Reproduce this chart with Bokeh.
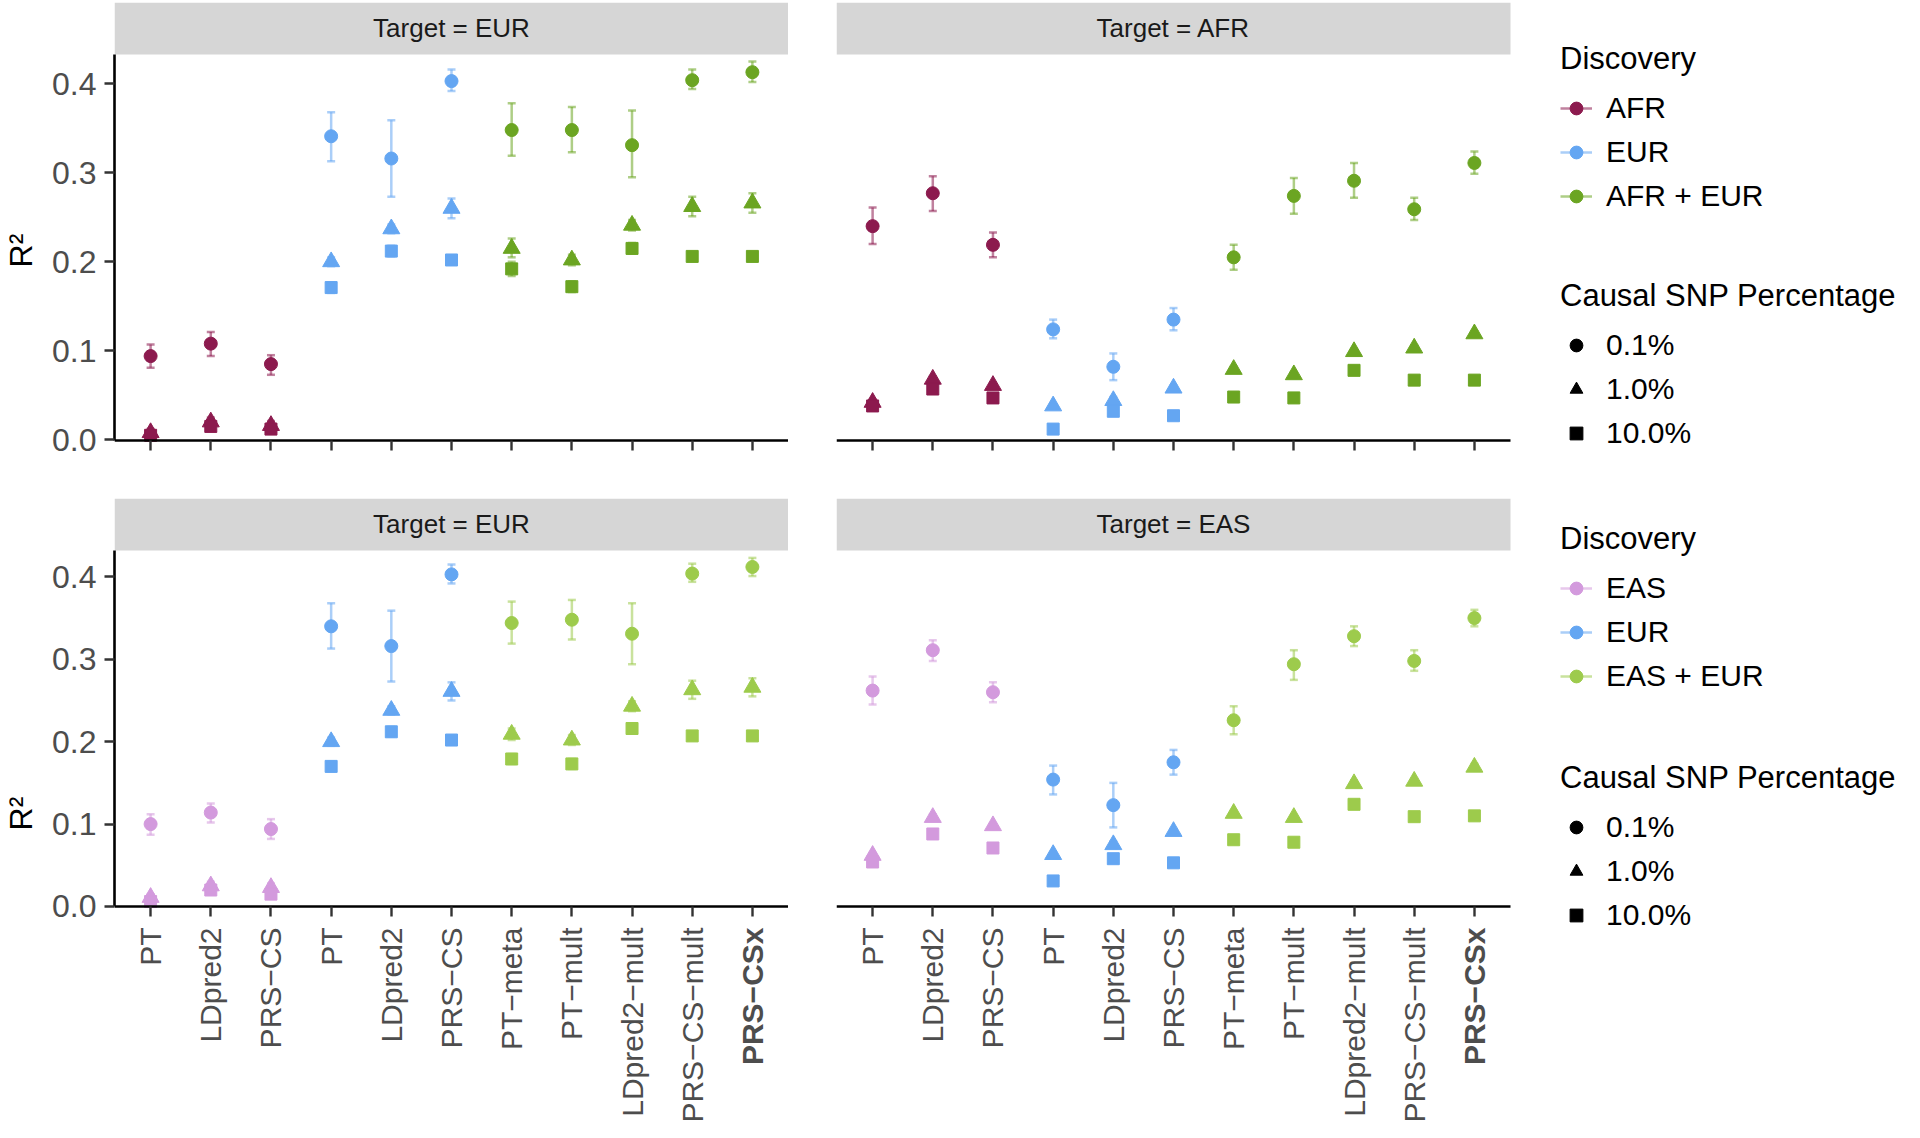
from math import pi
from bokeh.plotting import figure
from bokeh.models import (ColumnDataSource, FixedTicker, NumeralTickFormatter, LinearAxis,
                          BoxAnnotation, Label, Legend, LegendItem, Range1d)
from bokeh.layouts import column, row
from bokeh.embed import file_html
from bokeh.resources import INLINE

# ---------------- data ----------------
methods = ["PT", "LDpred2", "PRS\u2212CS", "PT", "LDpred2", "PRS\u2212CS",
           "PT\u2212meta", "PT\u2212mult", "LDpred2\u2212mult", "PRS\u2212CS\u2212mult", "PRS\u2212CSx"]
method_group = ["pop", "pop", "pop", "EUR", "EUR", "EUR", "multi", "multi", "multi", "multi", "multi"]
pct_labels = ["0.1%", "1.0%", "10.0%"]

# Panel A: Target = EUR, discovery AFR / EUR / AFR + EUR
a_c = [0.094, 0.108, 0.085, 0.341, 0.316, 0.403, 0.348, 0.348, 0.331, 0.404, 0.413]
a_c_lo = [0.081, 0.094, 0.073, 0.313, 0.273, 0.392, 0.319, 0.323, 0.295, 0.394, 0.402]
a_c_hi = [0.107, 0.121, 0.095, 0.368, 0.359, 0.416, 0.378, 0.374, 0.370, 0.416, 0.425]
a_t = [0.008, 0.020, 0.016, 0.200, 0.237, 0.260, 0.215, 0.202, 0.241, 0.262, 0.266]
a_t_lo = [0.004, 0.015, 0.011, 0.195, 0.232, 0.249, 0.205, 0.196, 0.235, 0.251, 0.255]
a_t_hi = [0.012, 0.025, 0.021, 0.205, 0.242, 0.271, 0.226, 0.208, 0.247, 0.273, 0.277]
a_s = [0.005, 0.015, 0.012, 0.171, 0.212, 0.202, 0.192, 0.172, 0.215, 0.206, 0.206]
a_s_lo = [0.002, 0.012, 0.009, 0.165, 0.206, 0.197, 0.184, 0.166, 0.209, 0.201, 0.201]
a_s_hi = [0.008, 0.018, 0.015, 0.177, 0.218, 0.207, 0.200, 0.178, 0.221, 0.211, 0.211]

# Panel B: Target = AFR
b_c = [0.240, 0.277, 0.219, 0.124, 0.082, 0.135, 0.205, 0.274, 0.291, 0.259, 0.311]
b_c_lo = [0.220, 0.257, 0.205, 0.114, 0.067, 0.123, 0.191, 0.254, 0.272, 0.247, 0.299]
b_c_hi = [0.261, 0.296, 0.233, 0.135, 0.097, 0.148, 0.219, 0.294, 0.311, 0.272, 0.324]
b_t = [0.042, 0.068, 0.061, 0.038, 0.044, 0.058, 0.079, 0.073, 0.099, 0.103, 0.119]
b_t_lo = [0.039, 0.065, 0.058, 0.036, 0.040, 0.055, 0.076, 0.070, 0.096, 0.100, 0.116]
b_t_hi = [0.045, 0.071, 0.064, 0.040, 0.048, 0.061, 0.082, 0.076, 0.102, 0.106, 0.122]
b_s = [0.038, 0.057, 0.047, 0.012, 0.032, 0.027, 0.048, 0.047, 0.078, 0.067, 0.067]
b_s_lo = [0.036, 0.055, 0.045, 0.010, 0.029, 0.025, 0.046, 0.045, 0.075, 0.065, 0.065]
b_s_hi = [0.040, 0.059, 0.049, 0.014, 0.035, 0.029, 0.050, 0.049, 0.081, 0.069, 0.069]

# Panel C: Target = EUR, discovery EAS / EUR / EAS + EUR
c_c = [0.100, 0.114, 0.094, 0.340, 0.316, 0.403, 0.344, 0.348, 0.331, 0.404, 0.412]
c_c_lo = [0.087, 0.102, 0.082, 0.313, 0.273, 0.392, 0.319, 0.324, 0.294, 0.394, 0.401]
c_c_hi = [0.112, 0.125, 0.106, 0.368, 0.359, 0.415, 0.370, 0.372, 0.368, 0.416, 0.423]
c_t = [0.011, 0.025, 0.023, 0.200, 0.238, 0.261, 0.209, 0.202, 0.243, 0.263, 0.266]
c_t_lo = [0.007, 0.020, 0.018, 0.195, 0.233, 0.250, 0.202, 0.196, 0.237, 0.252, 0.255]
c_t_hi = [0.015, 0.030, 0.028, 0.205, 0.243, 0.272, 0.216, 0.208, 0.249, 0.274, 0.277]
c_s = [0.006, 0.020, 0.015, 0.170, 0.212, 0.202, 0.179, 0.173, 0.216, 0.207, 0.207]
c_s_lo = [0.003, 0.017, 0.012, 0.164, 0.206, 0.197, 0.173, 0.167, 0.210, 0.202, 0.202]
c_s_hi = [0.009, 0.023, 0.018, 0.176, 0.218, 0.207, 0.185, 0.179, 0.222, 0.212, 0.212]

# Panel D: Target = EAS
d_c = [0.262, 0.311, 0.260, 0.154, 0.123, 0.175, 0.226, 0.294, 0.328, 0.298, 0.350]
d_c_lo = [0.245, 0.298, 0.248, 0.136, 0.096, 0.160, 0.209, 0.275, 0.316, 0.286, 0.340]
d_c_hi = [0.279, 0.323, 0.272, 0.171, 0.150, 0.190, 0.243, 0.311, 0.340, 0.311, 0.360]
d_t = [0.062, 0.108, 0.098, 0.063, 0.075, 0.091, 0.113, 0.108, 0.149, 0.152, 0.169]
d_t_lo = [0.059, 0.104, 0.095, 0.060, 0.071, 0.088, 0.110, 0.105, 0.145, 0.149, 0.165]
d_t_hi = [0.065, 0.112, 0.101, 0.066, 0.079, 0.094, 0.116, 0.111, 0.153, 0.155, 0.173]
d_s = [0.054, 0.088, 0.071, 0.031, 0.058, 0.053, 0.081, 0.078, 0.124, 0.109, 0.110]
d_s_lo = [0.052, 0.085, 0.069, 0.029, 0.055, 0.051, 0.078, 0.075, 0.120, 0.106, 0.107]
d_s_hi = [0.056, 0.091, 0.073, 0.033, 0.061, 0.055, 0.084, 0.081, 0.128, 0.112, 0.113]

# ---------------- style ----------------
FONT = "Liberation Sans"
STRIP_FILL = "#d6d6d6"
AXIS_COL = "#000000"
TICK_COL = "#333333"
TICKLAB_COL = "#4d4d4d"
MARKERS = ["circle", "triangle", "square"]
MSIZE = {"circle": 13, "triangle": 17, "square": 12}

PANEL_W = 674          # width of the data area of a facet
X_LO, X_HI = 0.4, 11.6  # discrete expansion of the 11 categories
RIGHT_EXTRA = 400      # room for the legends right of the right-hand facets


def make_panel(target, vals, colors, top_row, left_panel):
    if top_row:
        frame_h, y0, y1, axis_y, strip_b, mt = 496, -0.0660, 0.4913, -0.0008, 0.4329, 2
    else:
        frame_h, y0, y1, axis_y, strip_b, mt = 630, -0.2694, 0.4951, 0.0, 0.4320, 0
    if left_panel:
        fw, x_end = PANEL_W, X_HI
    else:
        fw = PANEL_W + RIGHT_EXTRA
        x_end = X_HI + RIGHT_EXTRA * (X_HI - X_LO) / PANEL_W
    p = figure(frame_width=fw, frame_height=frame_h,
               x_range=Range1d(X_LO, x_end), y_range=Range1d(y0, y1),
               output_backend="svg", toolbar_location=None,
               x_axis_location=None,
               y_axis_location="left" if left_panel else None,
               min_border_left=108 if left_panel else 48,
               min_border_right=0, min_border_top=mt, min_border_bottom=0)
    p.outline_line_color = None
    p.grid.visible = False
    p.background_fill_color = "white"
    p.border_fill_color = "white"

    # facet strip
    p.add_layout(BoxAnnotation(bottom=strip_b, left=X_LO, right=X_HI, fill_color=STRIP_FILL,
                               fill_alpha=1.0, line_alpha=0, level="underlay"))
    p.add_layout(Label(x=(X_LO + X_HI) / 2, y=(strip_b + y1) / 2,
                       text="Target = " + target, text_align="center", text_baseline="middle",
                       text_font=FONT, text_font_size="26px", text_color="#1a1a1a"))

    ticks = list(range(1, len(methods) + 1))

    def style_x(ax):
        ax.ticker = FixedTicker(ticks=ticks)
        ax.bounds = (X_LO, X_HI)
        ax.fixed_location = axis_y
        ax.axis_line_color = AXIS_COL
        ax.axis_line_width = 2.6
        ax.major_tick_line_color = TICK_COL
        ax.major_tick_line_width = 2.4
        ax.major_tick_out = 10
        ax.major_tick_in = 0
        ax.minor_tick_line_color = None
        ax.major_label_standoff = 11
        ax.major_label_orientation = pi / 2
        ax.major_label_text_font = FONT
        ax.major_label_text_font_size = "30px"
        ax.major_label_text_color = TICKLAB_COL

    xa = LinearAxis()
    style_x(xa)
    if top_row:
        xa.major_label_overrides = {t: "" for t in ticks}
        xa.major_label_text_font_size = "0px"
    else:
        ov = {t: m for t, m in zip(ticks, methods)}
        ov[ticks[-1]] = ""
        xa.major_label_overrides = ov
    p.add_layout(xa, "below")
    if not top_row:
        xb = LinearAxis()
        style_x(xb)
        xb.ticker = FixedTicker(ticks=[ticks[-1]])
        xb.major_label_overrides = {ticks[-1]: methods[-1]}
        xb.axis_line_color = None
        xb.major_tick_line_color = None
        xb.major_label_text_font_style = "bold"
        p.add_layout(xb, "below")

    if left_panel:
        ya = p.yaxis[0]
        ya.ticker = FixedTicker(ticks=[0.0, 0.1, 0.2, 0.3, 0.4])
        ya.formatter = NumeralTickFormatter(format="0.0")
        ya.bounds = (axis_y, strip_b)
        ya.axis_line_color = AXIS_COL
        ya.axis_line_width = 2.6
        ya.major_tick_line_color = TICK_COL
        ya.major_tick_line_width = 2.4
        ya.major_tick_out = 10
        ya.major_tick_in = 0
        ya.minor_tick_line_color = None
        ya.major_label_standoff = 8
        ya.major_label_text_font = FONT
        ya.major_label_text_font_size = "32px"
        ya.major_label_text_color = TICKLAB_COL
        ya.axis_label = "R\u00b2"
        ya.axis_label_text_font = FONT
        ya.axis_label_text_font_size = "32px"
        ya.axis_label_text_font_style = "normal"
        ya.axis_label_text_color = "black"
        ya.axis_label_standoff = 10

    groups = ["pop", "EUR", "multi"]
    legend_rs = []
    for gi, g in enumerate(groups):
        idx = [i for i, mg in enumerate(method_group) if mg == g]
        col = colors[gi]
        first = None
        for mk, (v, lo, hi) in zip(MARKERS, vals):
            src = ColumnDataSource(dict(
                x=[i + 1 for i in idx], y=[v[i] for i in idx],
                lo=[lo[i] for i in idx], hi=[hi[i] for i in idx]))
            stem = p.segment(x0="x", y0="lo", x1="x", y1="hi", source=src,
                             line_color=col, line_alpha=0.55, line_width=2.5)
            p.scatter(x="x", y="lo", source=src, marker="dash", size=8,
                      line_color=col, line_alpha=0.55, line_width=2.5)
            p.scatter(x="x", y="hi", source=src, marker="dash", size=8,
                      line_color=col, line_alpha=0.55, line_width=2.5)
            pt = p.scatter(x="x", y="y", source=src, marker=mk, size=MSIZE[mk],
                           fill_color=col, line_color=col)
            if mk == "circle":
                first = (stem, pt)
        legend_rs.append(first)
    return p, legend_rs


def add_legends(p, disc_labels, rs, loc1, loc2):
    common = dict(label_text_font=FONT, label_text_font_size="30px",
                  title_text_font=FONT, title_text_font_size="31px",
                  title_text_font_style="normal", title_text_color="black",
                  label_text_color="black",
                  border_line_alpha=0, background_fill_alpha=0, padding=0, margin=0,
                  spacing=0, glyph_width=32, glyph_height=44, label_height=44,
                  label_standoff=14, title_standoff=9)
    items1 = [LegendItem(label=lab, renderers=[r[0], r[1]]) for lab, r in zip(disc_labels, rs)]
    leg1 = Legend(items=items1, title="Discovery", location=loc1, **common)
    items2 = []
    for mk, lab in zip(MARKERS, pct_labels):
        # legend key only: a single point with no position, never drawn in the facet
        key_src = ColumnDataSource(dict(x=[float("nan")], y=[float("nan")]))
        r = p.scatter(x="x", y="y", source=key_src, marker=mk, size=MSIZE[mk],
                      fill_color="black", line_color="black")
        items2.append(LegendItem(label=lab, renderers=[r]))
    leg2 = Legend(items=items2, title="Causal SNP Percentage", location=loc2, **common)
    p.add_layout(leg1)
    p.add_layout(leg2)


COL_AFR = "#8c1a4e"
COL_EUR = "#64a6f2"
COL_AFREUR = "#6ba522"
COL_EAS = "#d39add"
COL_EASEUR = "#9dcb4c"

pA, rA = make_panel("EUR", [(a_c, a_c_lo, a_c_hi), (a_t, a_t_lo, a_t_hi), (a_s, a_s_lo, a_s_hi)],
                    [COL_AFR, COL_EUR, COL_AFREUR], True, True)
pB, rB = make_panel("AFR", [(b_c, b_c_lo, b_c_hi), (b_t, b_t_lo, b_t_hi), (b_s, b_s_lo, b_s_hi)],
                    [COL_AFR, COL_EUR, COL_AFREUR], True, False)
pC, rC = make_panel("EUR", [(c_c, c_c_lo, c_c_hi), (c_t, c_t_lo, c_t_hi), (c_s, c_s_lo, c_s_hi)],
                    [COL_EAS, COL_EUR, COL_EASEUR], False, True)
pD, rD = make_panel("EAS", [(d_c, d_c_lo, d_c_hi), (d_t, d_t_lo, d_t_hi), (d_s, d_s_lo, d_s_hi)],
                    [COL_EAS, COL_EUR, COL_EASEUR], False, False)

add_legends(pB, ["AFR", "EUR", "AFR + EUR"], rB, (724, 280), (724, 43))
add_legends(pD, ["EAS", "EUR", "EAS + EUR"], rD, (724, 430), (724, 191))

layout = column(row(pA, pB), row(pC, pD))
open("out.html", "w").write(file_html(layout, INLINE))
